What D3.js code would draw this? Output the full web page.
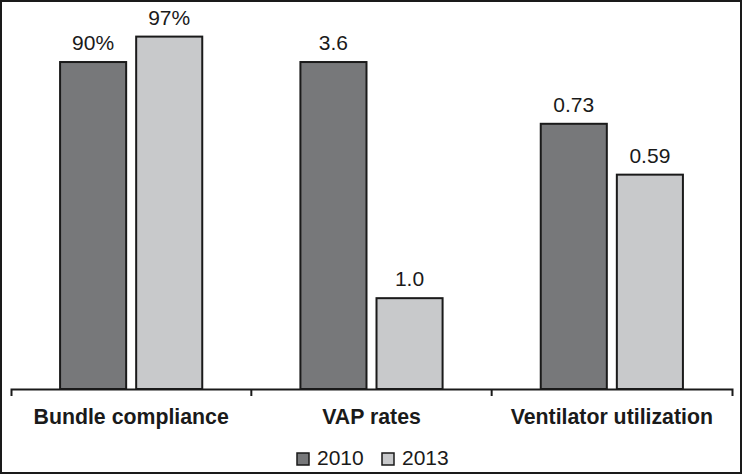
<!DOCTYPE html>
<html>
<head>
<meta charset="utf-8">
<script src="https://cdn.jsdelivr.net/npm/d3@7"></script>
<style>
  body { margin: 0; background: #fff; }
  svg { display: block; font-family: "Liberation Sans", Arial, sans-serif; }
</style>
</head>
<body>
<div id="chart"></div>
<script>
// data
let categories = ['Bundle compliance', 'VAP rates', 'Ventilator utilization'];
let series = ['2010', '2013'];
let values2010 = [90, 3.6, 0.73];
let values2013 = [97, 1.0, 0.59];
let labels2010 = ['90%', '3.6', '0.73'];
let labels2013 = ['97%', '1.0', '0.59'];
// each group was drawn on its own scale in the source, brought to one axis here
let plotFactor = [1, 25, 100];

let colors = { '2010': '#77787a', '2013': '#c8c9cb' };

let chart_width = 742;
let chart_height = 474;
let baseline = 389;

let data = [];
categories.forEach((c, i) => {
  data.push({ cat: c, key: '2010', v: values2010[i] * plotFactor[i], label: labels2010[i] });
  data.push({ cat: c, key: '2013', v: values2013[i] * plotFactor[i], label: labels2013[i] });
});

let svg = d3.select('#chart')
  .append('svg')
  .attr('width', chart_width)
  .attr('height', chart_height);

// frame
svg.append('rect')
  .attr('x', 1).attr('y', 1)
  .attr('width', chart_width - 2).attr('height', chart_height - 2)
  .attr('fill', '#fff')
  .attr('stroke', '#1a1a1a')
  .attr('stroke-width', 2);

let x_scale = d3.scaleBand()
  .domain(categories)
  .range([11, 732])
  .padding(0);

let inner = d3.scaleBand()
  .domain(series)
  .range([0, x_scale.bandwidth()])
  .paddingInner(10 / 76)
  .paddingOuter(0.645);

let y_scale = d3.scaleLinear()
  .domain([0, 100])
  .range([baseline, baseline - 363.3]);

// bars
svg.selectAll('rect.bar')
  .data(data)
  .enter()
  .append('rect')
  .attr('class', 'bar')
  .attr('x', d => x_scale(d.cat) + inner(d.key))
  .attr('y', d => y_scale(d.v))
  .attr('width', inner.bandwidth())
  .attr('height', d => baseline - y_scale(d.v))
  .attr('fill', d => colors[d.key])
  .attr('stroke', '#1a1a1a')
  .attr('stroke-width', 2);

// value labels
svg.selectAll('text.val')
  .data(data)
  .enter()
  .append('text')
  .attr('class', 'val')
  .attr('x', d => x_scale(d.cat) + inner(d.key) + inner.bandwidth() / 2)
  .attr('y', d => y_scale(d.v) - 12)
  .attr('text-anchor', 'middle')
  .attr('font-size', 21)
  .attr('fill', '#1a1a1a')
  .text(d => d.label);

// axis
let x_axis = d3.axisBottom(x_scale)
  .tickSizeInner(0)
  .tickSizeOuter(7)
  .tickPadding(0);

let ax = svg.append('g')
  .attr('class', 'x-axis')
  .attr('transform', 'translate(0,' + baseline + ')')
  .call(x_axis);

ax.select('.domain')
  .attr('stroke', '#1a1a1a')
  .attr('stroke-width', 2);

ax.selectAll('.tick line').remove();
ax.selectAll('.tick text')
  .attr('dy', null)
  .attr('y', 35)
  .attr('font-size', 21.3)
  .attr('font-weight', 'bold')
  .attr('font-family', '"Liberation Sans", Arial, sans-serif')
  .attr('fill', '#1a1a1a');

// group separators
ax.selectAll('line.sep')
  .data(categories.slice(1))
  .enter()
  .append('line')
  .attr('class', 'sep')
  .attr('x1', d => x_scale(d))
  .attr('x2', d => x_scale(d))
  .attr('y1', 0)
  .attr('y2', 7)
  .attr('stroke', '#1a1a1a')
  .attr('stroke-width', 2);

// legend
let legend_x = [297, 382];
let legend = svg.selectAll('g.legend')
  .data(series)
  .enter()
  .append('g')
  .attr('class', 'legend')
  .attr('transform', (d, i) => 'translate(' + legend_x[i] + ',453)');

legend.append('rect')
  .attr('width', 12)
  .attr('height', 12)
  .attr('fill', d => colors[d])
  .attr('stroke', '#1a1a1a')
  .attr('stroke-width', 1.5);

legend.append('text')
  .attr('x', 20)
  .attr('y', 12)
  .attr('font-size', 21)
  .attr('fill', '#1a1a1a')
  .text(d => d);
</script>
</body>
</html>
